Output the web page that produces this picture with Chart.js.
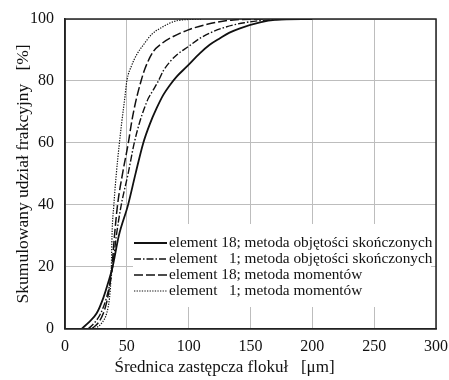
<!DOCTYPE html>
<html>
<head>
<meta charset="utf-8">
<script src="https://cdn.jsdelivr.net/npm/chart.js@4.4.1/dist/chart.umd.min.js"></script>
<style>
  html, body { margin: 0; padding: 0; background: #fff; }
  #wrap { width: 449px; height: 380px; position: relative; }
</style>
</head>
<body>
<div id="wrap"><canvas id="c" width="449" height="380"></canvas></div>
<script>
// ---- data ----
const seriesLabels = [
  'element 18; metoda objętości skończonych',
  'element   1; metoda objętości skończonych',
  'element 18; metoda momentów',
  'element   1; metoda momentów'
];
// element 18, finite volume method (solid)
const el18FvmX = [13.5, 19, 25.6, 31, 35, 38.5, 43.5, 51, 57, 63.3, 68.5, 74.1, 79.5, 84.9, 90.3, 98.4, 109.2, 117, 125.3, 133, 141.5, 157.7, 170, 200];
const el18FvmY = [0, 2, 5, 10, 15, 20, 30, 40, 50, 60, 66, 71.2, 75.5, 78.7, 81.4, 84.6, 89, 91.7, 93.8, 95.6, 97, 98.9, 99.7, 100];
// element 1, finite volume method (dash-dot)
const el1FvmX = [18.9, 24, 28.9, 33.5, 36.5, 38.5, 41.5, 45.5, 51, 56, 60.6, 64, 67.4, 71.4, 75.5, 79.5, 84.9, 90.3, 99.7, 110, 125.3, 145, 170, 200];
const el1FvmY = [0, 2, 5, 10, 15, 20, 30, 40, 50, 60, 67, 71, 74.4, 77.1, 80, 83.3, 86.2, 88.4, 91.1, 94, 96.8, 98.8, 99.8, 100];
// element 18, method of moments (dashed)
const el18MomX = [21.6, 27, 31, 34.5, 36.5, 38, 40, 42.5, 46.5, 51.2, 54, 57, 61.5, 64.7, 71.4, 78, 84.9, 99.7, 115, 136, 160];
const el18MomY = [0, 2, 5, 10, 15, 20, 30, 40, 50, 60, 67, 73, 80, 84, 89.5, 92, 93.8, 96.5, 98.3, 99.7, 100];
// element 1, method of moments (dotted)
const el1MomX = [24.3, 30, 33.7, 36, 37, 37.5, 38, 39.5, 41.5, 44, 46, 48.5, 50, 53.9, 58, 63.3, 70, 77, 90, 110];
const el1MomY = [0, 2, 5, 10, 15, 20, 30, 40, 50, 60, 67, 75, 80, 85, 88.5, 91.6, 95, 97, 99.4, 100];

const xTicks = [0, 50, 100, 150, 200, 250, 300];
const yTicks = [0, 20, 40, 60, 80, 100];
const xTitle = 'Średnica zastępcza flokuł   [μm]';
const yTitle = 'Skumulowany udział frakcyjny   [%]';

// ---- build ----
const FONT = "'Liberation Serif', 'Times New Roman', serif";
function pts(xs, ys) { return xs.map((x, i) => ({ x: x, y: ys[i] })); }

const styles = [
  { dash: [], width: 1.8 },
  { dash: [7, 2, 1.5, 2], width: 1.4 },
  { dash: [9, 3], width: 1.5 },
  { dash: [1.3, 1.3], width: 1.2 }
];
const seriesData = [
  pts(el18FvmX, el18FvmY),
  pts(el1FvmX, el1FvmY),
  pts(el18MomX, el18MomY),
  pts(el1MomX, el1MomY)
];

const datasets = seriesData.map((d, i) => ({
  label: seriesLabels[i],
  data: d,
  borderColor: '#111',
  backgroundColor: '#111',
  borderWidth: styles[i].width,
  borderDash: styles[i].dash,
  pointRadius: 0,
  cubicInterpolationMode: 'monotone',
  fill: false
}));

const framePlugin = {
  id: 'frame',
  afterDatasetsDraw(chart) {
    const { ctx, chartArea: a } = chart;
    ctx.save();
    ctx.strokeStyle = '#222';
    ctx.lineWidth = 1.5;
    ctx.strokeRect(a.left, a.top, a.right - a.left, a.bottom - a.top);
    ctx.restore();
  }
};

const legendPlugin = {
  id: 'insideLegend',
  afterDraw(chart) {
    const { ctx, chartArea: a } = chart;
    const left = a.left + 68, top = a.top + 205, right = a.right - 5, bottom = a.top + 288;
    ctx.save();
    ctx.fillStyle = '#fff';
    ctx.fillRect(left, top, right - left, bottom - top);
    ctx.font = '15.3px ' + FONT;
    ctx.textBaseline = 'middle';
    ctx.fillStyle = '#111';
    chart.data.datasets.forEach((ds, i) => {
      const y = top + 19 + i * 16;
      ctx.beginPath();
      ctx.setLineDash(ds.borderDash);
      ctx.lineWidth = ds.borderWidth;
      ctx.strokeStyle = ds.borderColor;
      ctx.moveTo(left + 1, y);
      ctx.lineTo(left + 34, y);
      ctx.stroke();
      ctx.setLineDash([]);
      ctx.fillText(ds.label, left + 36, y);
    });
    ctx.restore();
  }
};

new Chart(document.getElementById('c'), {
  type: 'line',
  data: { datasets: datasets },
  options: {
    responsive: false,
    animation: false,
    layout: { padding: { top: 19, right: 0, bottom: 0, left: 0 } },
    plugins: {
      legend: { display: false },
      tooltip: { enabled: false },
      title: {
        display: true,
        position: 'bottom',
        text: xTitle,
        color: '#111',
        font: { family: FONT, size: 17, weight: 'normal' },
        padding: { top: 1.8, bottom: 2 }
      }
    },
    scales: {
      x: {
        type: 'linear',
        min: 0, max: 300,
        afterBuildTicks(scale) { scale.ticks = xTicks.map(v => ({ value: v })); },
        afterFit(scale) { scale.height = 27; scale.paddingRight = 13; scale.paddingLeft = 5; },
        grid: { color: '#bdbdbd', lineWidth: 1, drawTicks: false },
        border: { color: '#222', width: 1.5 },
        ticks: { color: '#111', padding: 8, font: { family: FONT, size: 16 } }
      },
      y: {
        type: 'linear',
        min: 0, max: 100,
        afterBuildTicks(scale) { scale.ticks = yTicks.map(v => ({ value: v })); },
        afterFit(scale) { scale.width = 65; scale.paddingTop = 5; scale.paddingBottom = 5; },
        grid: { color: '#bdbdbd', lineWidth: 1, drawTicks: false },
        border: { color: '#222', width: 1.5 },
        ticks: { color: '#111', padding: 11, font: { family: FONT, size: 16 } },
        title: {
          display: true,
          text: yTitle,
          color: '#111',
          font: { family: FONT, size: 17.5 },
          padding: { top: 12.5, bottom: 0 }
        }
      }
    }
  },
  plugins: [framePlugin, legendPlugin]
});
</script>
</body>
</html>
